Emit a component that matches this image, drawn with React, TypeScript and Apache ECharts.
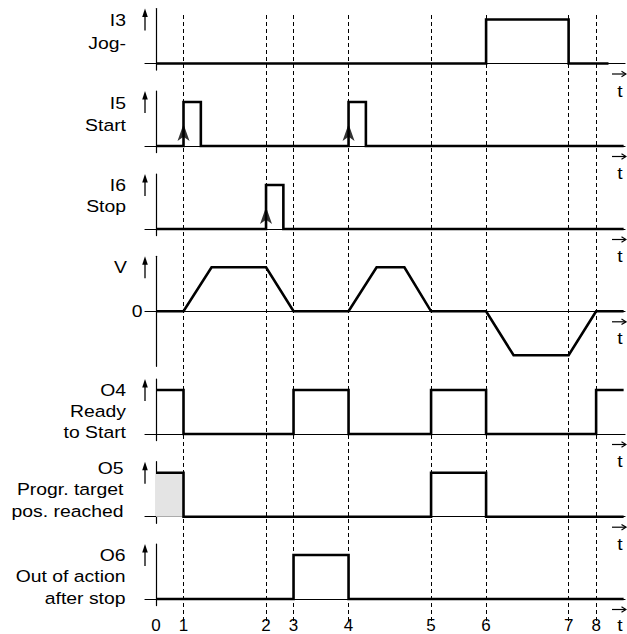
import React, { useEffect, useRef } from 'react';
import * as echarts from 'echarts';

// ---- Data (times in units of the time axis; levels 0/1, velocity -1..1) ----
const markerTimes = [0, 1, 4, 5, 7, 10, 12, 15, 16];
const markerLabels = ['0', '1', '2', '3', '4', '5', '6', '7', '8'];

// step signals: [time, level] = level becomes `level` at `time`
const jogMinus = [[0, 0], [12, 1], [15, 0], [16.45, 0]];
const startInput = [[0, 0], [1, 1], [1.63, 0], [7, 1], [7.63, 0], [17, 0]];
const stopInput = [[0, 0], [4, 1], [4.63, 0], [17, 0]];
const velocity = [
  [0, 0], [1, 0], [2.02, 1], [4, 1], [5, 0], [7, 0], [8.02, 1], [9.03, 1], [10, 0],
  [12, 0], [13, -1], [15, -1], [16, 0], [17, 0],
];
const readyToStart = [[0, 1], [1, 0], [5, 1], [7, 0], [10, 1], [12, 0], [16, 1], [17, 1]];
const targetReached = [[0, 1], [1, 0], [10, 1], [12, 0], [17, 0]];
const outOfAction = [[0, 0], [5, 1], [7, 0], [17, 0]];

const startEdges = [1, 7];
const stopEdges = [4];
const targetShadeSpan = [0, 1];

const i3Label = ['I3', 'Jog-'];
const i5Label = ['I5', 'Start'];
const i6Label = ['I6', 'Stop'];
const vLabel = ['V'];
const vZeroLabel = '0';
const o4Label = ['O4', 'Ready', 'to Start'];
const o5Label = ['O5', 'Progr. target', 'pos. reached'];
const o6Label = ['O6', 'Out of action', 'after stop'];
const timeLabel = 't';

// ---- Layout ----
const W = 627;
const H = 634;
const X_MIN = -0.4;
const X_MAX = 17.05;
const PLOT_LEFT = 145;
const PLOT_RIGHT = 2;
const UNIT = 44;
const FONT = "'Liberation Sans', Arial, Helvetica, sans-serif";
const LABEL_SIZE = 17;
const LABEL_SCALE_X = 1.14;

type Row = {
  labels: string[];
  baseline: number;
  analog: boolean;
  data: number[][];
  labelRight: number;
  labelTop: number;
  lineGap: number;
  arrows?: number[];
  shade?: number[];
};

const rows: Row[] = [
  { labels: i3Label, baseline: 63.5, analog: false, data: jogMinus, labelRight: 126, labelTop: 20.5, lineGap: 22.5 },
  { labels: i5Label, baseline: 146, analog: false, data: startInput, labelRight: 126, labelTop: 103.3, lineGap: 22, arrows: startEdges },
  { labels: i6Label, baseline: 229, analog: false, data: stopInput, labelRight: 126, labelTop: 185, lineGap: 21.7, arrows: stopEdges },
  { labels: vLabel, baseline: 311.3, analog: true, data: velocity, labelRight: 127, labelTop: 267, lineGap: 21.5 },
  { labels: o4Label, baseline: 434, analog: false, data: readyToStart, labelRight: 126, labelTop: 390, lineGap: 21.2 },
  { labels: o5Label, baseline: 516.7, analog: false, data: targetReached, labelRight: 123.5, labelTop: 468, lineGap: 21.5, shade: targetShadeSpan },
  { labels: o6Label, baseline: 599, analog: false, data: outOfAction, labelRight: 125.5, labelTop: 555, lineGap: 21.5 },
];

function buildOption() {
  const grid: any[] = [];
  const xAxis: any[] = [];
  const yAxis: any[] = [];
  const series: any[] = [];
  const graphic: any[] = [];

  const axisLineStyle = { color: '#000', width: 1.2 };
  const arrowX = PLOT_LEFT;

  rows.forEach((row, i) => {
    const top = row.baseline - 1.25 * UNIT;
    const height = (row.analog ? 2.5 : 1.4) * UNIT;
    grid.push({ left: PLOT_LEFT, right: PLOT_RIGHT, top, height, outerBoundsMode: 'none', containLabel: false });
    xAxis.push({
      gridIndex: i, type: 'value', min: X_MIN, max: X_MAX,
      axisLine: { show: true, onZero: true, lineStyle: axisLineStyle },
      axisTick: { show: false }, axisLabel: { show: false }, splitLine: { show: false },
    });
    yAxis.push({
      gridIndex: i, type: 'value', min: row.analog ? -1.25 : -0.15, max: 1.25,
      axisLine: { show: true, onZero: true, lineStyle: axisLineStyle },
      axisTick: { show: false }, axisLabel: { show: false }, splitLine: { show: false },
    });
    const s: any = {
      type: 'line', xAxisIndex: i, yAxisIndex: i, data: row.data,
      step: row.analog ? false : 'end', symbol: 'none', silent: true, z: 3,
      lineStyle: { color: '#000', width: 2.6, join: 'miter', cap: 'butt' },
    };
    if (row.shade) {
      s.markArea = {
        silent: true,
        itemStyle: { color: '#e4e4e4' },
        data: [[{ coord: [row.shade[0], 0] }, { coord: [row.shade[1], 1] }]],
      };
    }
    series.push(s);
    if (row.arrows) {
      series.push({
        type: 'scatter', xAxisIndex: i, yAxisIndex: i, silent: true, z: 4,
        data: row.arrows.map((t) => [t, 0.5]),
        symbol: 'arrow', symbolSize: [9, 17], itemStyle: { color: '#000' },
      });
    }

    // up arrow at the left of each row
    graphic.push({ type: 'line', shape: { x1: arrowX, y1: top + 3, x2: arrowX, y2: top + 22 }, style: { stroke: '#000', lineWidth: 1.3 } });
    graphic.push({ type: 'polygon', shape: { points: [[arrowX, top], [arrowX - 2.8, top + 8.5], [arrowX + 2.8, top + 8.5]] }, style: { fill: '#000' } });

    // row label
    row.labels.forEach((txt, k) => {
      graphic.push({
        type: 'text', x: row.labelRight, y: row.labelTop + k * row.lineGap, scaleX: LABEL_SCALE_X,
        style: { text: txt, fontSize: LABEL_SIZE, fontFamily: FONT, fill: '#000', textAlign: 'right', textVerticalAlign: 'middle', align: 'right', verticalAlign: 'middle' },
      });
    });
    if (row.analog) {
      graphic.push({
        type: 'text', x: 142.5, y: row.baseline, scaleX: LABEL_SCALE_X,
        style: { text: vZeroLabel, fontSize: LABEL_SIZE, fontFamily: FONT, fill: '#000', textAlign: 'right', textVerticalAlign: 'middle', align: 'right', verticalAlign: 'middle' },
      });
    }

    // time vector arrow + t on the right
    const ay = row.baseline + 10.5;
    graphic.push({ type: 'line', shape: { x1: 612, y1: ay, x2: 625.5, y2: ay }, style: { stroke: '#000', lineWidth: 1.2 } });
    graphic.push({ type: 'polyline', shape: { points: [[621.5, ay - 2.8], [626, ay], [621.5, ay + 2.8]] }, style: { stroke: '#000', lineWidth: 1.2, fill: null } });
    graphic.push({
      type: 'text', x: 620, y: Math.min(row.baseline + 27.5, 625.5), scaleX: LABEL_SCALE_X,
      style: { text: timeLabel, fontSize: 17, lineHeight: 14, fontFamily: FONT, fill: '#000', textAlign: 'center', textVerticalAlign: 'middle', align: 'center', verticalAlign: 'middle' },
    });
  });

  // overlay grid: dashed time markers and their labels
  const oi = rows.length;
  grid.push({ left: PLOT_LEFT, right: PLOT_RIGHT, top: 15, height: 606, outerBoundsMode: 'none', containLabel: false });
  xAxis.push({
    gridIndex: oi, type: 'value', min: X_MIN, max: X_MAX,
    axisLine: { show: false }, axisTick: { show: false }, splitLine: { show: false },
    axisLabel: {
      show: true, customValues: markerTimes,
      formatter: (v: number) => {
        const idx = markerTimes.findIndex((m) => Math.abs(m - v) < 1e-6);
        return idx >= 0 ? markerLabels[idx] : '';
      },
      fontSize: 17, lineHeight: 14, fontFamily: FONT, color: '#000', margin: 4.5, verticalAlign: 'middle', hideOverlap: false,
    },
  });
  yAxis.push({ gridIndex: oi, type: 'value', min: 0, max: 1, show: false });
  series.push({
    type: 'line', xAxisIndex: oi, yAxisIndex: oi, data: [], silent: true, z: 1,
    markLine: {
      silent: true, symbol: ['none', 'none'], animation: false,
      label: { show: false },
      lineStyle: { color: '#000', width: 1, type: [4, 3] },
      data: markerTimes.slice(1).map((t) => ({ xAxis: t })),
    },
  });

  return {
    animation: false,
    backgroundColor: '#fff',
    grid, xAxis, yAxis, series, graphic,
  };
}

export default function App() {
  const ref = useRef<HTMLDivElement>(null);
  useEffect(() => {
    if (!ref.current) return;
    const chart = echarts.init(ref.current, null, { renderer: 'svg' });
    chart.setOption(buildOption() as any);
    return () => chart.dispose();
  }, []);
  return (
    <div
      ref={ref}
      style={{ position: 'absolute', left: 0, top: 0, width: W, height: H, background: '#fff' }}
    />
  );
}
